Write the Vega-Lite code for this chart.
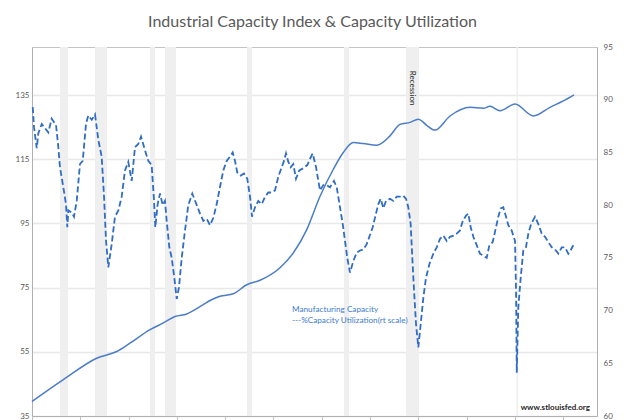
{
  "$schema": "https://vega.github.io/schema/vega-lite/v6.json",
  "autosize": {"type": "none"},
  "width": 565,
  "height": 369,
  "padding": {"left": 32, "top": 47, "right": 27, "bottom": 4},
  "background": "white",
  "title": {
    "text": "Industrial Capacity Index & Capacity Utilization",
    "font": "Lato",
    "fontSize": 16,
    "fontWeight": "normal",
    "color": "#595959",
    "anchor": "middle",
    "offset": 13,
    "dx": -2
  },
  "config": {
    "view": {"stroke": "#c4c4c4", "strokeWidth": 1},
    "axis": {
      "labelFont": "Lato",
      "labelFontSize": 8,
      "labelColor": "#595959",
      "domainColor": "#b0b0b0",
      "tickColor": "#c4c4c4"
    }
  },
  "datasets": {
    "recessions": [
      {"start": 1969.92, "end": 1970.80},
      {"start": 1973.77, "end": 1975.09},
      {"start": 1979.81, "end": 1980.36},
      {"start": 1981.45, "end": 1982.66},
      {"start": 1990.46, "end": 1991.01},
      {"start": 2001.11, "end": 2001.66},
      {"start": 2007.92, "end": 2009.35},
      {"start": 2020.05, "end": 2020.22}
    ],
    "capacity": [
      {"year": 1966.85, "index": 39.5},
      {"year": 1970.29, "index": 46.3},
      {"year": 1973.95, "index": 53.0},
      {"year": 1976.15, "index": 55.1},
      {"year": 1977.61, "index": 57.7},
      {"year": 1979.81, "index": 61.9},
      {"year": 1981.27, "index": 64.0},
      {"year": 1982.55, "index": 66.0},
      {"year": 1983.84, "index": 66.8},
      {"year": 1985.66, "index": 69.7},
      {"year": 1986.40, "index": 71.0},
      {"year": 1987.49, "index": 72.3},
      {"year": 1988.96, "index": 73.1},
      {"year": 1990.43, "index": 75.9},
      {"year": 1991.89, "index": 77.3},
      {"year": 1994.08, "index": 81.2},
      {"year": 1995.54, "index": 85.8},
      {"year": 1997.02, "index": 93.1},
      {"year": 1998.48, "index": 103.5},
      {"year": 1999.94, "index": 111.9},
      {"year": 2001.03, "index": 117.1},
      {"year": 2002.13, "index": 120.2},
      {"year": 2003.23, "index": 119.9},
      {"year": 2004.70, "index": 119.4},
      {"year": 2006.16, "index": 122.3},
      {"year": 2007.26, "index": 125.9},
      {"year": 2008.36, "index": 126.5},
      {"year": 2009.27, "index": 127.5},
      {"year": 2010.19, "index": 125.6},
      {"year": 2011.10, "index": 124.1},
      {"year": 2012.75, "index": 128.5},
      {"year": 2014.95, "index": 131.2},
      {"year": 2016.41, "index": 130.9},
      {"year": 2017.14, "index": 131.5},
      {"year": 2018.24, "index": 130.1},
      {"year": 2019.89, "index": 132.2},
      {"year": 2021.90, "index": 128.5},
      {"year": 2023.73, "index": 131.2},
      {"year": 2025.19, "index": 133.2},
      {"year": 2026.37, "index": 135.1}
    ],
    "utilization": [
      {"year": 1966.93, "rate": 89.3},
      {"year": 1967.07, "rate": 87.4},
      {"year": 1967.37, "rate": 85.4},
      {"year": 1967.54, "rate": 86.8},
      {"year": 1967.92, "rate": 87.7},
      {"year": 1968.28, "rate": 87.3},
      {"year": 1968.64, "rate": 86.9},
      {"year": 1969.01, "rate": 88.2},
      {"year": 1969.49, "rate": 87.6},
      {"year": 1969.74, "rate": 85.5},
      {"year": 1969.92, "rate": 83.6},
      {"year": 1970.29, "rate": 81.7},
      {"year": 1970.58, "rate": 80.1},
      {"year": 1970.73, "rate": 77.9},
      {"year": 1970.84, "rate": 79.5},
      {"year": 1971.21, "rate": 79.3},
      {"year": 1971.46, "rate": 78.9},
      {"year": 1971.76, "rate": 80.4},
      {"year": 1972.12, "rate": 83.9},
      {"year": 1972.42, "rate": 84.2},
      {"year": 1972.78, "rate": 87.7},
      {"year": 1973.03, "rate": 88.5},
      {"year": 1973.41, "rate": 88.1},
      {"year": 1973.77, "rate": 88.6},
      {"year": 1974.13, "rate": 86.2},
      {"year": 1974.50, "rate": 84.6},
      {"year": 1974.76, "rate": 80.8},
      {"year": 1974.98, "rate": 76.6},
      {"year": 1975.23, "rate": 74.1},
      {"year": 1975.60, "rate": 76.3},
      {"year": 1975.96, "rate": 78.9},
      {"year": 1976.33, "rate": 79.5},
      {"year": 1976.70, "rate": 80.8},
      {"year": 1977.06, "rate": 83.3},
      {"year": 1977.42, "rate": 84.1},
      {"year": 1977.80, "rate": 82.3},
      {"year": 1978.16, "rate": 85.5},
      {"year": 1978.52, "rate": 85.8},
      {"year": 1978.82, "rate": 86.5},
      {"year": 1979.26, "rate": 85.2},
      {"year": 1979.62, "rate": 84.2},
      {"year": 1979.99, "rate": 83.8},
      {"year": 1980.25, "rate": 80.4},
      {"year": 1980.39, "rate": 77.9},
      {"year": 1980.65, "rate": 80.1},
      {"year": 1980.91, "rate": 81.1},
      {"year": 1981.20, "rate": 80.0},
      {"year": 1981.45, "rate": 80.4},
      {"year": 1981.64, "rate": 78.5},
      {"year": 1981.93, "rate": 76.0},
      {"year": 1982.19, "rate": 75.0},
      {"year": 1982.48, "rate": 73.1},
      {"year": 1982.74, "rate": 71.1},
      {"year": 1982.99, "rate": 72.2},
      {"year": 1983.29, "rate": 75.0},
      {"year": 1983.65, "rate": 77.6},
      {"year": 1984.01, "rate": 80.0},
      {"year": 1984.45, "rate": 81.1},
      {"year": 1984.94, "rate": 80.0},
      {"year": 1985.30, "rate": 79.2},
      {"year": 1985.66, "rate": 78.5},
      {"year": 1986.03, "rate": 78.7},
      {"year": 1986.40, "rate": 78.1},
      {"year": 1986.76, "rate": 78.8},
      {"year": 1987.13, "rate": 80.1},
      {"year": 1987.49, "rate": 81.7},
      {"year": 1987.86, "rate": 83.3},
      {"year": 1988.23, "rate": 84.2},
      {"year": 1988.59, "rate": 84.6},
      {"year": 1988.89, "rate": 85.0},
      {"year": 1989.14, "rate": 84.2},
      {"year": 1989.39, "rate": 83.1},
      {"year": 1989.77, "rate": 82.8},
      {"year": 1990.13, "rate": 83.0},
      {"year": 1990.49, "rate": 82.5},
      {"year": 1990.79, "rate": 80.8},
      {"year": 1991.01, "rate": 78.9},
      {"year": 1991.34, "rate": 79.8},
      {"year": 1991.70, "rate": 80.4},
      {"year": 1992.07, "rate": 80.1},
      {"year": 1992.44, "rate": 80.8},
      {"year": 1992.80, "rate": 81.2},
      {"year": 1993.17, "rate": 81.2},
      {"year": 1993.53, "rate": 81.4},
      {"year": 1993.90, "rate": 82.7},
      {"year": 1994.27, "rate": 83.6},
      {"year": 1994.52, "rate": 84.2},
      {"year": 1994.74, "rate": 84.9},
      {"year": 1995.00, "rate": 84.1},
      {"year": 1995.26, "rate": 83.6},
      {"year": 1995.54, "rate": 83.9},
      {"year": 1995.84, "rate": 82.5},
      {"year": 1996.20, "rate": 83.3},
      {"year": 1996.64, "rate": 83.5},
      {"year": 1997.08, "rate": 83.8},
      {"year": 1997.38, "rate": 84.4},
      {"year": 1997.67, "rate": 84.9},
      {"year": 1998.04, "rate": 83.6},
      {"year": 1998.29, "rate": 82.3},
      {"year": 1998.48, "rate": 81.4},
      {"year": 1998.84, "rate": 81.9},
      {"year": 1999.21, "rate": 81.9},
      {"year": 1999.57, "rate": 81.7},
      {"year": 2000.01, "rate": 82.3},
      {"year": 2000.31, "rate": 81.7},
      {"year": 2000.67, "rate": 79.8},
      {"year": 2000.97, "rate": 78.2},
      {"year": 2001.22, "rate": 76.6},
      {"year": 2001.47, "rate": 75.0},
      {"year": 2001.77, "rate": 73.6},
      {"year": 2002.13, "rate": 74.7},
      {"year": 2002.51, "rate": 75.5},
      {"year": 2002.87, "rate": 75.7},
      {"year": 2003.23, "rate": 75.8},
      {"year": 2003.60, "rate": 76.3},
      {"year": 2003.89, "rate": 77.0},
      {"year": 2004.26, "rate": 77.9},
      {"year": 2004.62, "rate": 79.2},
      {"year": 2004.88, "rate": 80.1},
      {"year": 2005.14, "rate": 80.6},
      {"year": 2005.43, "rate": 79.7},
      {"year": 2005.72, "rate": 80.4},
      {"year": 2006.16, "rate": 80.6},
      {"year": 2006.52, "rate": 80.4},
      {"year": 2006.90, "rate": 80.8},
      {"year": 2007.26, "rate": 80.8},
      {"year": 2007.62, "rate": 80.9},
      {"year": 2007.92, "rate": 80.6},
      {"year": 2008.17, "rate": 79.8},
      {"year": 2008.43, "rate": 78.2},
      {"year": 2008.61, "rate": 75.0},
      {"year": 2008.80, "rate": 71.9},
      {"year": 2009.02, "rate": 68.7},
      {"year": 2009.27, "rate": 66.5},
      {"year": 2009.53, "rate": 68.7},
      {"year": 2009.82, "rate": 71.2},
      {"year": 2010.11, "rate": 73.1},
      {"year": 2010.48, "rate": 74.4},
      {"year": 2010.92, "rate": 75.4},
      {"year": 2011.29, "rate": 76.0},
      {"year": 2011.65, "rate": 76.8},
      {"year": 2012.02, "rate": 77.1},
      {"year": 2012.39, "rate": 76.6},
      {"year": 2012.75, "rate": 77.0},
      {"year": 2013.12, "rate": 77.1},
      {"year": 2013.49, "rate": 77.3},
      {"year": 2013.85, "rate": 77.6},
      {"year": 2014.15, "rate": 78.5},
      {"year": 2014.51, "rate": 79.0},
      {"year": 2014.76, "rate": 79.2},
      {"year": 2015.02, "rate": 77.9},
      {"year": 2015.31, "rate": 77.0},
      {"year": 2015.68, "rate": 76.2},
      {"year": 2016.04, "rate": 75.4},
      {"year": 2016.41, "rate": 75.2},
      {"year": 2016.78, "rate": 75.0},
      {"year": 2017.07, "rate": 76.2},
      {"year": 2017.44, "rate": 76.5},
      {"year": 2017.80, "rate": 77.9},
      {"year": 2018.05, "rate": 78.9},
      {"year": 2018.32, "rate": 79.7},
      {"year": 2018.60, "rate": 79.8},
      {"year": 2018.90, "rate": 78.9},
      {"year": 2019.15, "rate": 78.1},
      {"year": 2019.52, "rate": 77.6},
      {"year": 2019.89, "rate": 76.6},
      {"year": 2020.00, "rate": 71.9},
      {"year": 2020.08, "rate": 64.1},
      {"year": 2020.25, "rate": 70.3},
      {"year": 2020.51, "rate": 73.1},
      {"year": 2020.80, "rate": 75.7},
      {"year": 2021.09, "rate": 76.0},
      {"year": 2021.35, "rate": 77.3},
      {"year": 2021.65, "rate": 78.2},
      {"year": 2022.08, "rate": 78.9},
      {"year": 2022.45, "rate": 78.2},
      {"year": 2022.82, "rate": 77.3},
      {"year": 2023.18, "rate": 77.0},
      {"year": 2023.54, "rate": 76.5},
      {"year": 2023.92, "rate": 76.0},
      {"year": 2024.28, "rate": 75.8},
      {"year": 2024.64, "rate": 75.4},
      {"year": 2025.02, "rate": 76.0},
      {"year": 2025.38, "rate": 76.0},
      {"year": 2025.74, "rate": 75.4},
      {"year": 2026.04, "rate": 75.8},
      {"year": 2026.29, "rate": 76.2}
    ],
    "recessionNote": [{"year": 2008.61, "value": 137.2, "label": "Recession"}],
    "legendNote": [
      {"year": 1995.40, "value": 67.9, "label": "Manufacturing Capacity"},
      {"year": 1995.40, "value": 64.5, "label": "---%Capacity Utilization(rt scale)"}
    ],
    "sourceNote": [{"year": 2028.12, "value": 37.6, "label": "www.stlouisfed.org"}]
  },
  "layer": [
    {
      "data": {"name": "recessions"},
      "mark": {"type": "rect", "color": "#efefef"},
      "encoding": {
        "x": {
          "field": "start",
          "type": "quantitative",
          "scale": {"domain": [1966.85, 2028.89], "nice": false, "zero": false},
          "axis": {
            "title": null,
            "labels": false,
            "grid": false,
            "tickSize": 4,
            "values": [1966.85, 1968.18, 1969.50, 1970.83, 1972.15, 1973.48, 1974.80, 1976.13, 1977.45, 1978.78, 1980.10, 1981.43, 1982.75, 1984.08, 1985.41, 1986.73, 1988.06, 1989.38, 1990.71, 1992.03, 1993.36, 1994.68, 1996.01, 1997.33, 1998.66, 1999.99, 2001.31, 2002.64, 2003.96, 2005.29, 2006.61, 2007.94, 2009.26, 2010.59, 2011.91, 2013.24, 2014.57, 2015.89, 2017.22, 2018.54, 2019.87, 2021.19, 2022.52, 2023.84, 2025.17, 2026.49, 2027.82]
          }
        },
        "x2": {"field": "end"}
      }
    },
    {
      "data": {"name": "capacity"},
      "mark": {"type": "line", "color": "#4a7cc7", "strokeWidth": 1.5, "interpolate": "monotone"},
      "encoding": {
        "x": {"field": "year", "type": "quantitative"},
        "y": {
          "field": "index",
          "type": "quantitative",
          "scale": {"domain": [35, 150], "nice": false, "zero": false},
          "axis": {
            "orient": "left",
            "title": null,
            "values": [35, 55, 75, 95, 115, 135],
            "ticks": false,
            "labelPadding": 3,
            "grid": true,
            "gridColor": "#e8e8e8",
            "gridWidth": 1.5
          }
        }
      }
    },
    {
      "data": {"name": "utilization"},
      "mark": {"type": "line", "color": "#2f6cc4", "strokeWidth": 1.8, "strokeDash": [6, 3]},
      "encoding": {
        "x": {"field": "year", "type": "quantitative"},
        "y": {
          "field": "rate",
          "type": "quantitative",
          "scale": {"domain": [60, 95], "nice": false, "zero": false},
          "axis": {
            "orient": "right",
            "title": null,
            "values": [60, 65, 70, 75, 80, 85, 90, 95],
            "ticks": false,
            "labelPadding": 6,
            "grid": false
          }
        }
      }
    },
    {
      "data": {"name": "recessionNote"},
      "mark": {"type": "text", "angle": 90, "align": "center", "baseline": "middle", "font": "Lato", "fontSize": 8, "color": "#262626"},
      "encoding": {
        "x": {"field": "year", "type": "quantitative"},
        "y": {"field": "value", "type": "quantitative", "scale": {"domain": [35, 150], "nice": false, "zero": false}, "axis": null},
        "text": {"field": "label"}
      }
    },
    {
      "data": {"name": "legendNote"},
      "mark": {"type": "text", "align": "left", "baseline": "middle", "font": "Lato", "fontSize": 8.2, "color": "#3d7bd0"},
      "encoding": {
        "x": {"field": "year", "type": "quantitative"},
        "y": {"field": "value", "type": "quantitative", "scale": {"domain": [35, 150], "nice": false, "zero": false}, "axis": null},
        "text": {"field": "label"}
      }
    },
    {
      "data": {"name": "sourceNote"},
      "mark": {"type": "text", "align": "right", "baseline": "middle", "font": "Lato", "fontSize": 8, "fontWeight": "bold", "color": "#262626"},
      "encoding": {
        "x": {"field": "year", "type": "quantitative"},
        "y": {"field": "value", "type": "quantitative", "scale": {"domain": [35, 150], "nice": false, "zero": false}, "axis": null},
        "text": {"field": "label"}
      }
    }
  ],
  "resolve": {"scale": {"y": "independent"}}
}
